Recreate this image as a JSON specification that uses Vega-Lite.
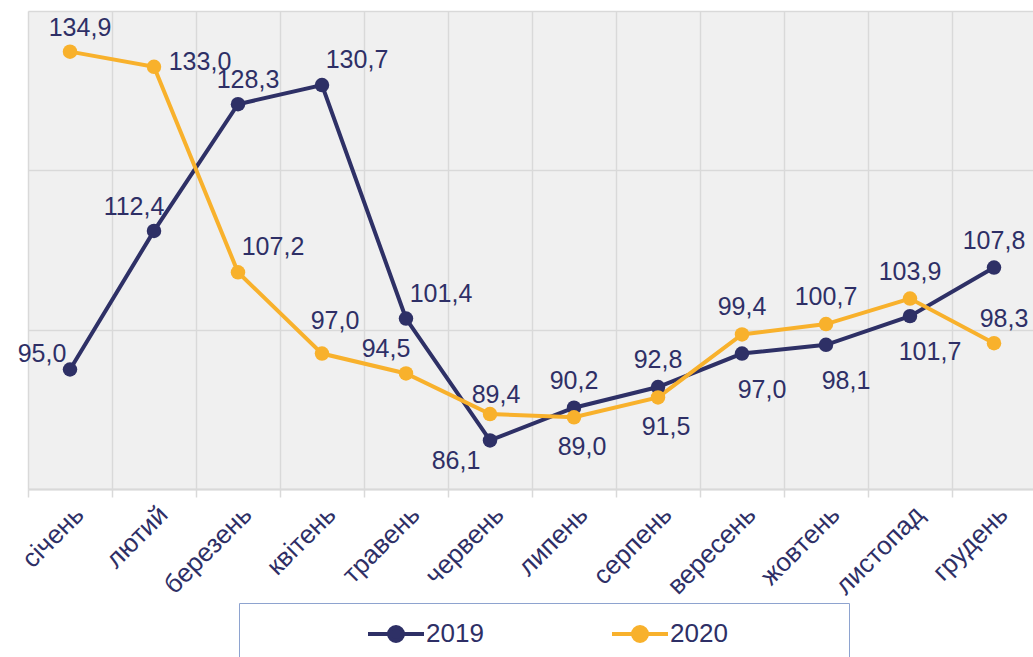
{
  "$schema": "https://vega.github.io/schema/vega-lite/v6.json",
  "width": 1008,
  "height": 478,
  "autosize": {"type": "none"},
  "padding": {"left": 28, "top": 11, "right": 0, "bottom": 168},
  "background": "white",
  "config": {
    "locale": {"number": {"decimal": ",", "thousands": " ", "grouping": [3], "currency": ["", " грн"]}},
    "font": "Liberation Sans",
    "view": {"fill": "#f0f0f0", "stroke": null}
  },
  "data": {"values": [
    {"month": "січень", "year": "2019", "value": 95.0},
    {"month": "лютий", "year": "2019", "value": 112.4},
    {"month": "березень", "year": "2019", "value": 128.3},
    {"month": "квітень", "year": "2019", "value": 130.7},
    {"month": "травень", "year": "2019", "value": 101.4},
    {"month": "червень", "year": "2019", "value": 86.1},
    {"month": "липень", "year": "2019", "value": 90.2},
    {"month": "серпень", "year": "2019", "value": 92.8},
    {"month": "вересень", "year": "2019", "value": 97.0},
    {"month": "жовтень", "year": "2019", "value": 98.1},
    {"month": "листопад", "year": "2019", "value": 101.7},
    {"month": "грудень", "year": "2019", "value": 107.8},
    {"month": "січень", "year": "2020", "value": 134.9},
    {"month": "лютий", "year": "2020", "value": 133.0},
    {"month": "березень", "year": "2020", "value": 107.2},
    {"month": "квітень", "year": "2020", "value": 97.0},
    {"month": "травень", "year": "2020", "value": 94.5},
    {"month": "червень", "year": "2020", "value": 89.4},
    {"month": "липень", "year": "2020", "value": 89.0},
    {"month": "серпень", "year": "2020", "value": 91.5},
    {"month": "вересень", "year": "2020", "value": 99.4},
    {"month": "жовтень", "year": "2020", "value": 100.7},
    {"month": "листопад", "year": "2020", "value": 103.9},
    {"month": "грудень", "year": "2020", "value": 98.3}
  ]},
  "encoding": {
    "x": {
      "field": "month", "type": "ordinal",
      "sort": ["січень","лютий","березень","квітень","травень","червень","липень","серпень","вересень","жовтень","листопад","грудень"],
      "scale": {"type": "band", "paddingInner": 0, "paddingOuter": 0},
      "axis": {
        "title": null, "labelAngle": -45, "labelFontSize": 26, "labelColor": "#2e2f66",
        "labelPadding": 4, "tickBand": "extent", "tickColor": "#d9d9d9", "tickSize": 8, "tickWidth": 1.5,
        "domainColor": "#d9d9d9", "domainWidth": 2, "grid": true, "gridColor": "#d9d9d9", "gridWidth": 1.5
      }
    },
    "y": {
      "field": "value", "type": "quantitative",
      "scale": {"domain": [80, 140], "nice": false, "zero": false},
      "axis": {"title": null, "labels": false, "ticks": false, "domain": false, "values": [80, 100, 120, 140], "gridColor": "#d9d9d9", "gridWidth": 1.5}
    }
  },
  "layer": [
    {
      "mark": {"type": "line", "strokeWidth": 4},
      "encoding": {
        "color": {
          "field": "year", "type": "nominal",
          "scale": {"domain": ["2019", "2020"], "range": ["#2e3066", "#f8b12c"]},
          "legend": {
            "title": "\u00a0", "titleOrient": "right", "titlePadding": 106, "orient": "none", "legendX": 211, "legendY": 592, "direction": "horizontal",
            "fillColor": "white", "strokeColor": "#8ea3cf", "padding": 15,
            "symbolType": "M-2,0H2M0.5,0A0.5,0.5,0,1,1,-0.5,0A0.5,0.5,0,1,1,0.5,0Z",
            "symbolSize": 784, "symbolStrokeWidth": 4, "symbolOffset": 126,
            "labelFontSize": 26, "labelColor": "#2e2f66", "labelOffset": 14, "columnPadding": 14,
            "encode": {"symbols": {"update": {"fill": {"scale": "color", "field": "value"}}}}
          }
        }
      }
    },
    {
      "mark": {"type": "point", "filled": true, "size": 210, "opacity": 1},
      "encoding": {"color": {"field": "year", "type": "nominal"}}
    },
    {
      "transform": [{"filter": "(datum.year=='2019' && indexof(['липень','серпень','грудень'], datum.month)>=0) || (datum.year=='2020' && indexof(['вересень','жовтень','листопад'], datum.month)>=0)"}],
      "mark": {"type": "text", "fontSize": 25, "color": "#2e2f66", "dx": 0, "dy": -27},
      "encoding": {"text": {"field": "value", "type": "quantitative", "format": ".1f"}}
    },
    {
      "transform": [{"filter": "datum.year=='2020' && datum.month=='червень'"}],
      "mark": {"type": "text", "fontSize": 25, "color": "#2e2f66", "dx": 6, "dy": -19},
      "encoding": {"text": {"field": "value", "type": "quantitative", "format": ".1f"}}
    },
    {
      "transform": [{"filter": "(datum.year=='2019' && datum.month=='березень') || (datum.year=='2020' && indexof(['січень','грудень'], datum.month)>=0)"}],
      "mark": {"type": "text", "fontSize": 25, "color": "#2e2f66", "dx": 10, "dy": -24},
      "encoding": {"text": {"field": "value", "type": "quantitative", "format": ".1f"}}
    },
    {
      "transform": [{"filter": "(datum.year=='2019' && indexof(['квітень','травень'], datum.month)>=0) || (datum.year=='2020' && datum.month=='березень')"}],
      "mark": {"type": "text", "fontSize": 25, "color": "#2e2f66", "dx": 35, "dy": -25},
      "encoding": {"text": {"field": "value", "type": "quantitative", "format": ".1f"}}
    },
    {
      "transform": [{"filter": "datum.year=='2020' && datum.month=='квітень'"}],
      "mark": {"type": "text", "fontSize": 25, "color": "#2e2f66", "dx": 13, "dy": -33},
      "encoding": {"text": {"field": "value", "type": "quantitative", "format": ".1f"}}
    },
    {
      "transform": [{"filter": "(datum.year=='2019' && datum.month=='лютий') || (datum.year=='2020' && datum.month=='травень')"}],
      "mark": {"type": "text", "fontSize": 25, "color": "#2e2f66", "dx": -20, "dy": -24},
      "encoding": {"text": {"field": "value", "type": "quantitative", "format": ".1f"}}
    },
    {
      "transform": [{"filter": "datum.year=='2019' && datum.month=='січень'"}],
      "mark": {"type": "text", "fontSize": 25, "color": "#2e2f66", "dx": -28, "dy": -16},
      "encoding": {"text": {"field": "value", "type": "quantitative", "format": ".1f"}}
    },
    {
      "transform": [{"filter": "datum.year=='2020' && datum.month=='лютий'"}],
      "mark": {"type": "text", "fontSize": 25, "color": "#2e2f66", "dx": 46, "dy": -5},
      "encoding": {"text": {"field": "value", "type": "quantitative", "format": ".1f"}}
    },
    {
      "transform": [{"filter": "datum.year=='2019' && datum.month=='червень'"}],
      "mark": {"type": "text", "fontSize": 25, "color": "#2e2f66", "dx": -34, "dy": 21},
      "encoding": {"text": {"field": "value", "type": "quantitative", "format": ".1f"}}
    },
    {
      "transform": [{"filter": "datum.year=='2020' && indexof(['липень','серпень'], datum.month)>=0"}],
      "mark": {"type": "text", "fontSize": 25, "color": "#2e2f66", "dx": 8, "dy": 30},
      "encoding": {"text": {"field": "value", "type": "quantitative", "format": ".1f"}}
    },
    {
      "transform": [{"filter": "datum.year=='2019' && indexof(['вересень','жовтень','листопад'], datum.month)>=0"}],
      "mark": {"type": "text", "fontSize": 25, "color": "#2e2f66", "dx": 20, "dy": 36},
      "encoding": {"text": {"field": "value", "type": "quantitative", "format": ".1f"}}
    }
  ]
}
